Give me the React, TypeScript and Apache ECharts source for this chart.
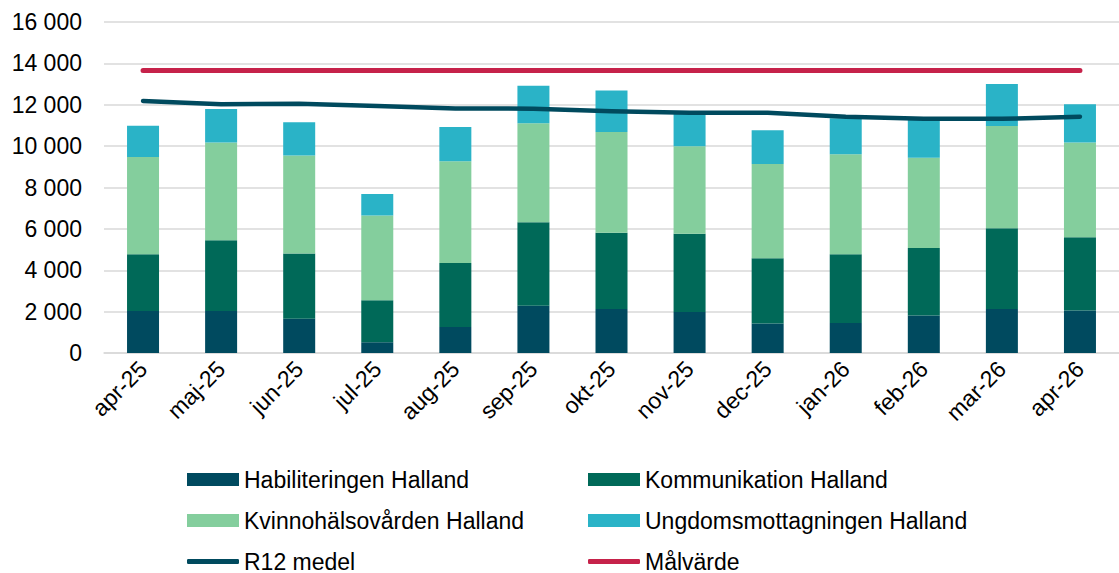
import React, { useEffect, useRef } from "react";
import * as echarts from "echarts";

const categories = ["apr-25", "maj-25", "jun-25", "jul-25", "aug-25", "sep-25", "okt-25", "nov-25", "dec-25", "jan-26", "feb-26", "mar-26", "apr-26"];
const habiliteringen = [2030, 2030, 1660, 520, 1260, 2290, 2130, 1980, 1420, 1450, 1810, 2130, 2050];
const kommunikation = [2740, 3420, 3150, 2030, 3090, 4030, 3680, 3780, 3160, 3320, 3270, 3900, 3550];
const kvinnohalsovarden = [4700, 4730, 4740, 4100, 4920, 4790, 4870, 4240, 4550, 4840, 4360, 4940, 4580];
const ungdomsmottagningen = [1510, 1610, 1600, 1040, 1650, 1810, 2010, 1550, 1640, 1740, 1860, 2030, 1840];
const r12Medel = [12180, 12020, 12050, 11940, 11820, 11810, 11690, 11610, 11610, 11420, 11320, 11320, 11420];
const malvarde = [13650, 13650, 13650, 13650, 13650, 13650, 13650, 13650, 13650, 13650, 13650, 13650, 13650];

const FONT = "'Liberation Sans', Arial, sans-serif";
const FS = 23;

const COLORS = {
  hab: "#004A5F",
  komm: "#006958",
  kvinno: "#84CE9D",
  ungdom: "#2AB3C7",
  r12: "#004A5E",
  mal: "#C6224A",
};

export default function App() {
  const ref = useRef<HTMLDivElement>(null);

  useEffect(() => {
    if (!ref.current) return;
    const chart = echarts.init(ref.current, null, { renderer: "svg" });

    const legendItem = (name: string, left: number, centerY: number, isLine: boolean) => ({
      show: true,
      left,
      top: centerY - 12,
      orient: "horizontal",
      padding: 0,
      itemWidth: 52,
      itemHeight: isLine ? 5 : 13,
      icon: isLine ? "roundRect" : "rect",
      selectedMode: false,
      textStyle: { fontFamily: FONT, fontSize: FS, color: "#000", padding: [0, 0, 0, 0] },
      data: [{ name, icon: isLine ? "roundRect" : "rect" }],
    });

    const barSeries = (name: string, data: number[], color: string) => ({
      name,
      type: "bar",
      stack: "total",
      barWidth: 32,
      data,
      itemStyle: { color },
    });

    chart.setOption({
      animation: false,
      textStyle: { fontFamily: FONT },
      grid: { left: 104, top: 22, width: 1031, height: 331, containLabel: false },
      legend: [
        legendItem("Habiliteringen Halland", 187, 480, false),
        legendItem("Kommunikation Halland", 588, 480, false),
        legendItem("Kvinnohälsovården Halland", 187, 521, false),
        legendItem("Ungdomsmottagningen Halland", 588, 521, false),
        legendItem("R12 medel", 187, 562, true),
        legendItem("Målvärde", 588, 562, true),
      ],
      xAxis: {
        type: "category",
        data: categories,
        axisLine: { show: true, lineStyle: { color: "#D9D9D9", width: 1.5 } },
        axisTick: { show: false },
        axisLabel: {
          rotate: 45,
          interval: 0,
          margin: 12,
          fontFamily: FONT,
          fontSize: FS,
          color: "#000",
        },
      },
      yAxis: {
        type: "value",
        min: 0,
        max: 16000,
        interval: 2000,
        axisLine: { show: false },
        axisTick: { show: false },
        splitLine: { lineStyle: { color: "#D9D9D9", width: 1.5 } },
        axisLabel: {
          margin: 22,
          fontFamily: FONT,
          fontSize: FS,
          color: "#000",
          formatter: (v: number) => String(v).replace(/\B(?=(\d{3})+(?!\d))/g, " "),
        },
      },
      series: [
        barSeries("Habiliteringen Halland", habiliteringen, COLORS.hab),
        barSeries("Kommunikation Halland", kommunikation, COLORS.komm),
        barSeries("Kvinnohälsovården Halland", kvinnohalsovarden, COLORS.kvinno),
        barSeries("Ungdomsmottagningen Halland", ungdomsmottagningen, COLORS.ungdom),
        {
          name: "R12 medel",
          type: "line",
          data: r12Medel,
          symbol: "none",
          smooth: false,
          lineStyle: { color: COLORS.r12, width: 4.5, cap: "round", join: "round" },
          itemStyle: { color: COLORS.r12 },
          z: 5,
        },
        {
          name: "Målvärde",
          type: "line",
          data: malvarde,
          symbol: "none",
          lineStyle: { color: COLORS.mal, width: 5, cap: "round" },
          itemStyle: { color: COLORS.mal },
          z: 5,
        },
      ],
    });

    return () => chart.dispose();
  }, []);

  return (
    <div
      ref={ref}
      style={{ position: "absolute", left: 0, top: 0, width: 1119, height: 573, background: "#fff" }}
    />
  );
}
